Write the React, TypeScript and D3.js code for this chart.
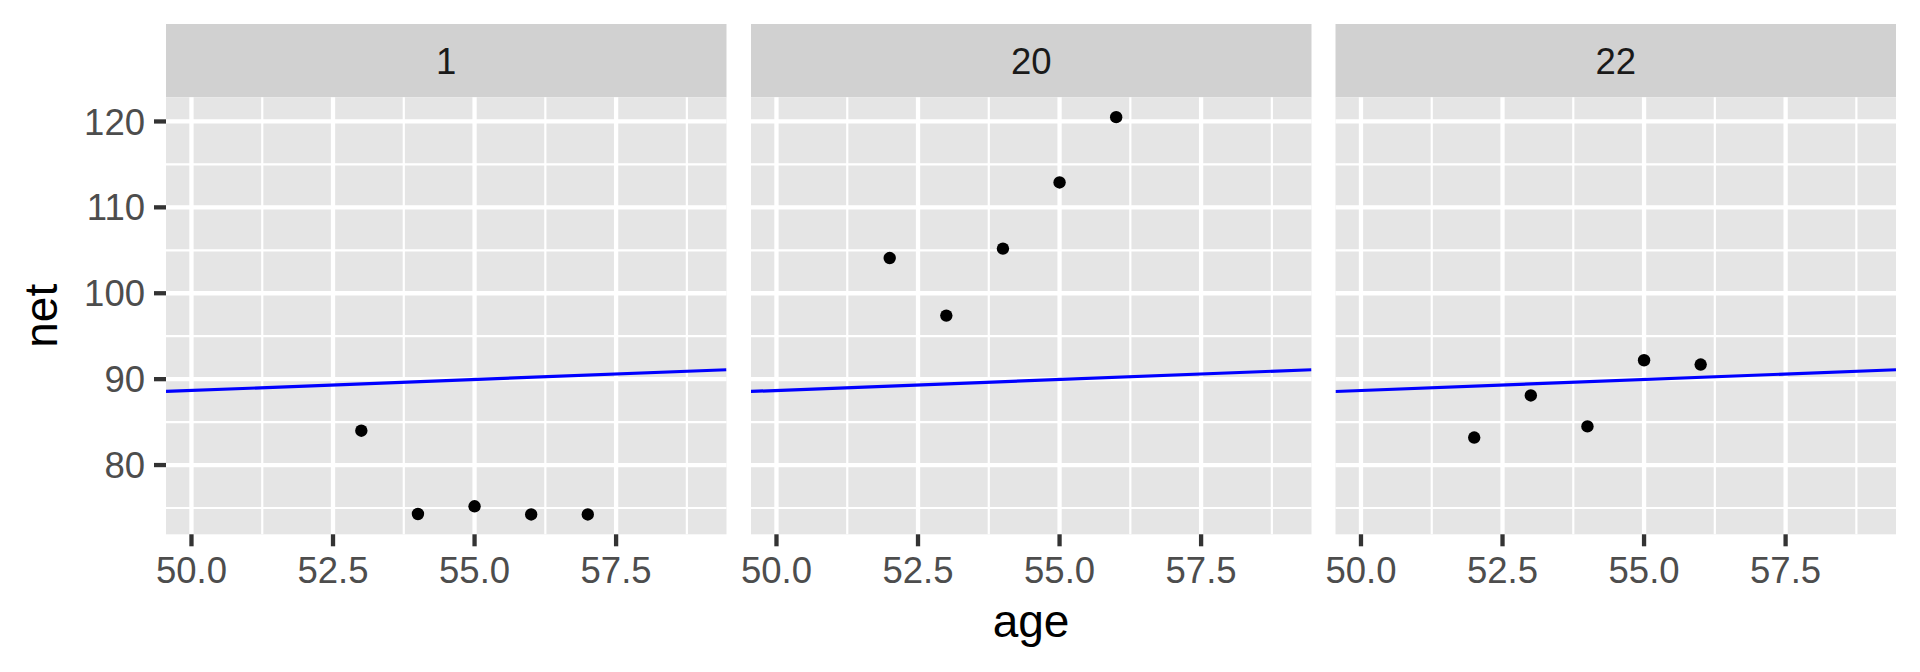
import React from "react";
import * as d3 from "d3";

const facets = ["1", "20", "22"];
const ages1 = [53, 54, 55, 56, 57];
const nets1 = [84.0, 74.3, 75.2, 74.25, 74.25];
const ages20 = [52, 53, 54, 55, 56];
const nets20 = [104.1, 97.4, 105.2, 112.9, 120.5];
const ages22 = [52, 53, 54, 55, 56];
const nets22 = [83.2, 88.1, 84.5, 92.2, 91.7];
const ageRange = [50, 59];
const xTicks = [50, 52.5, 55, 57.5];
const yTicks = [80, 90, 100, 110, 120];
const ablineIntercept = 75.9;
const ablineSlope = 0.2556;

const W = 1920;
const H = 672;
const panelLefts = [166, 751, 1335.5];
const panelW = 560.5;
const panelTop = 97.3;
const panelBottom = 534.3;
const stripTop = 24;

export default function App() {
  const series = [
    { ages: ages1, nets: nets1 },
    { ages: ages20, nets: nets20 },
    { ages: ages22, nets: nets22 },
  ];
  const allNets = [...nets1, ...nets20, ...nets22];
  const [yMin, yMax] = d3.extent(allNets) as [number, number];
  const yr = yMax - yMin;
  const y = d3
    .scaleLinear()
    .domain([yMin - 0.05 * yr, yMax + 0.05 * yr])
    .range([panelBottom, panelTop]);
  const xr = ageRange[1] - ageRange[0];
  const xDom = [ageRange[0] - 0.05 * xr, ageRange[1] + 0.05 * xr];

  const yMinor: number[] = [];
  for (let i = 0; i < yTicks.length + 1; i++) {
    const v = yTicks[0] - 5 + i * 10;
    if (v >= y.domain()[0] && v <= y.domain()[1]) yMinor.push(v);
  }
  const xMinor: number[] = [];
  for (let i = 0; i < xTicks.length + 1; i++) {
    const v = xTicks[0] - 1.25 + i * 2.5;
    if (v >= xDom[0] && v <= xDom[1]) xMinor.push(v);
  }

  const font = "Liberation Sans, Arial, Helvetica, sans-serif";
  const tickFont = 36.5;

  return (
    <svg width={W} height={H} style={{ display: "block", margin: "-8px" }} fontFamily={font}>
      <rect x={0} y={0} width={W} height={H} fill="#ffffff" />
      {facets.map((f, i) => {
        const left = panelLefts[i];
        const x = d3.scaleLinear().domain(xDom).range([left, left + panelW]);
        const s = series[i];
        const line = d3
          .line<number>()
          .x((d) => x(d))
          .y((d) => y(ablineIntercept + ablineSlope * d));
        return (
          <g key={f}>
            <rect x={left} y={stripTop} width={panelW} height={panelTop - stripTop} fill="#D1D1D1" />
            <text
              x={left + panelW / 2}
              y={(stripTop + panelTop) / 2}
              dy="0.36em"
              textAnchor="middle"
              fontSize={tickFont}
              fill="#1a1a1a"
            >
              {f}
            </text>
            <rect x={left} y={panelTop} width={panelW} height={panelBottom - panelTop} fill="#E5E5E5" />
            {yMinor.map((v) => (
              <line key={"ym" + v} x1={left} x2={left + panelW} y1={y(v)} y2={y(v)} stroke="#fff" strokeWidth={2.2} />
            ))}
            {xMinor.map((v) => (
              <line key={"xm" + v} x1={x(v)} x2={x(v)} y1={panelTop} y2={panelBottom} stroke="#fff" strokeWidth={2.2} />
            ))}
            {yTicks.map((v) => (
              <line key={"yM" + v} x1={left} x2={left + panelW} y1={y(v)} y2={y(v)} stroke="#fff" strokeWidth={4.3} />
            ))}
            {xTicks.map((v) => (
              <line key={"xM" + v} x1={x(v)} x2={x(v)} y1={panelTop} y2={panelBottom} stroke="#fff" strokeWidth={4.3} />
            ))}
            <g clipPath={`url(#clip${i})`}>
              <path d={line(xDom) || ""} stroke="#0000FF" strokeWidth={3.2} fill="none" />
            </g>
            <clipPath id={`clip${i}`}>
              <rect x={left} y={panelTop} width={panelW} height={panelBottom - panelTop} />
            </clipPath>
            {s.ages.map((a, j) => (
              <circle key={j} cx={x(a)} cy={y(s.nets[j])} r={6.2} fill="#000" />
            ))}
            {xTicks.map((v) => (
              <g key={"xt" + v}>
                <line x1={x(v)} x2={x(v)} y1={panelBottom} y2={panelBottom + 12} stroke="#333" strokeWidth={4.3} />
                <text x={x(v)} y={583.3} textAnchor="middle" fontSize={tickFont} fill="#4d4d4d">
                  {v.toFixed(1)}
                </text>
              </g>
            ))}
          </g>
        );
      })}
      {yTicks.map((v) => (
        <g key={"yt" + v}>
          <line x1={154} x2={166} y1={y(v)} y2={y(v)} stroke="#333" strokeWidth={4.3} />
          <text x={145} y={y(v)} dy="0.36em" textAnchor="end" fontSize={tickFont} fill="#4d4d4d">
            {v}
          </text>
        </g>
      ))}
      <text
        x={(panelLefts[0] + panelLefts[2] + panelW) / 2}
        y={636.7}
        textAnchor="middle"
        fontSize={46}
        fill="#000"
      >
        age
      </text>
      <text
        transform={`translate(56.7, ${(panelTop + panelBottom) / 2}) rotate(-90)`}
        textAnchor="middle"
        fontSize={46}
        fill="#000"
      >
        net
      </text>
    </svg>
  );
}
